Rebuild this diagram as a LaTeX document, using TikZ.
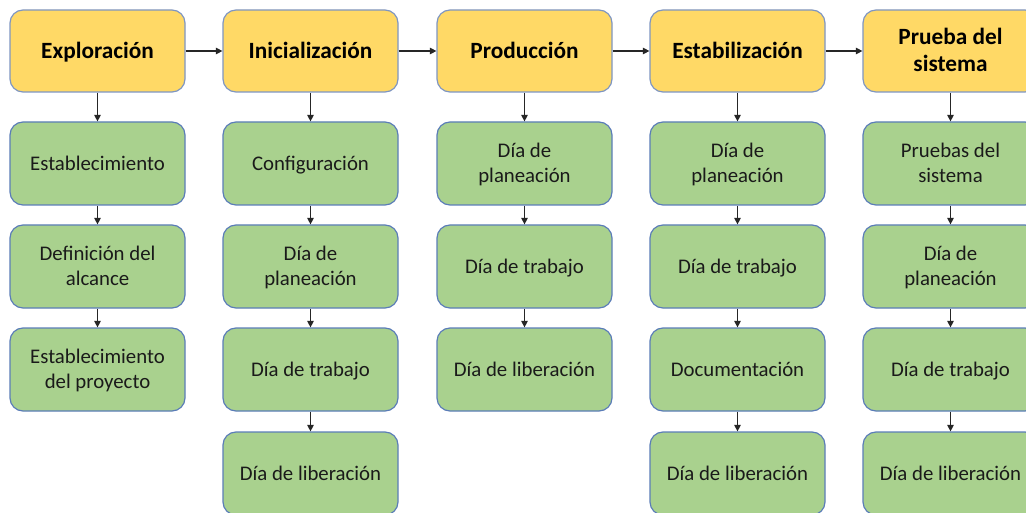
\documentclass[tikz,border=0pt]{standalone}
\usepackage{fontspec}
\setmainfont{Carlito}
\usetikzlibrary{arrows.meta}
\newcommand{\ms}{\rule[-0.24\baselineskip]{0pt}{\baselineskip}}
\definecolor{hdrfill}{HTML}{FFD966}
\definecolor{hdrdraw}{HTML}{7F96C2}
\definecolor{stepfill}{HTML}{A9D18E}
\definecolor{stepdraw}{HTML}{5B7DB8}
\definecolor{steptext}{HTML}{1A1A1A}
\tikzset{
  hdrbox/.style={draw=hdrdraw, fill=hdrfill, line width=1.2pt, rounded corners=13pt,
    minimum width=175pt, minimum height=82pt, align=center, inner sep=2pt,
    font=\fontsize{23.3}{27}\selectfont\bfseries, text=black},
  stepbox/.style={draw=stepdraw, fill=stepfill, line width=1.2pt, rounded corners=13pt,
    minimum width=175pt, minimum height=83pt, align=center, inner sep=2pt,
    font=\fontsize{20.8}{25.5}\selectfont, text=steptext},
  link/.style={draw=black!85, line width=1.1pt, -{Triangle[length=6.5pt,width=6.5pt]}}
}
\begin{document}
\begin{tikzpicture}[x=1pt,y=-1pt]
\useasboundingbox (0,0) rectangle (1026,513);
\fill[white] (0,0) rectangle (1026,513);
\clip (0,0) rectangle (1026,513);
% headers
\node[hdrbox] (h1) at (97.5,51) {\ms Exploración};
\node[hdrbox] (h2) at (310.5,51) {\ms Inicialización};
\node[hdrbox] (h3) at (524.5,51) {\ms Producción};
\node[hdrbox] (h4) at (737.5,51) {\ms Estabilización};
\node[hdrbox] (h5) at (950.5,51) {\ms Prueba del\\\ms sistema};
% column 1
\node[stepbox] (a1) at (97.5,163.5) {\ms Establecimiento};
\node[stepbox] (a2) at (97.5,266.5) {\ms Definición del\\\ms alcance};
\node[stepbox] (a3) at (97.5,369.5) {\ms Establecimiento\\\ms del proyecto};
% column 2
\node[stepbox] (b1) at (310.5,163.5) {\ms Configuración};
\node[stepbox] (b2) at (310.5,266.5) {\ms Día de\\\ms planeación};
\node[stepbox] (b3) at (310.5,369.5) {\ms Día de trabajo};
\node[stepbox] (b4) at (310.5,473.5) {\ms Día de liberación};
% column 3
\node[stepbox] (c1) at (524.5,163.5) {\ms Día de\\\ms planeación};
\node[stepbox] (c2) at (524.5,266.5) {\ms Día de trabajo};
\node[stepbox] (c3) at (524.5,369.5) {\ms Día de liberación};
% column 4
\node[stepbox] (d1) at (737.5,163.5) {\ms Día de\\\ms planeación};
\node[stepbox] (d2) at (737.5,266.5) {\ms Día de trabajo};
\node[stepbox] (d3) at (737.5,369.5) {\ms Documentación};
\node[stepbox] (d4) at (737.5,473.5) {\ms Día de liberación};
% column 5
\node[stepbox] (e1) at (950.5,163.5) {\ms Pruebas del\\\ms sistema};
\node[stepbox] (e2) at (950.5,266.5) {\ms Día de\\\ms planeación};
\node[stepbox] (e3) at (950.5,369.5) {\ms Día de trabajo};
\node[stepbox] (e4) at (950.5,473.5) {\ms Día de liberación};
% horizontal arrows
\draw[link] (h1) -- (h2);
\draw[link] (h2) -- (h3);
\draw[link] (h3) -- (h4);
\draw[link] (h4) -- (h5);
% vertical arrows
\draw[link] (h1) -- (a1);
\draw[link] (a1) -- (a2);
\draw[link] (a2) -- (a3);
\draw[link] (h2) -- (b1);
\draw[link] (b1) -- (b2);
\draw[link] (b2) -- (b3);
\draw[link] (b3) -- (b4);
\draw[link] (h3) -- (c1);
\draw[link] (c1) -- (c2);
\draw[link] (c2) -- (c3);
\draw[link] (h4) -- (d1);
\draw[link] (d1) -- (d2);
\draw[link] (d2) -- (d3);
\draw[link] (d3) -- (d4);
\draw[link] (h5) -- (e1);
\draw[link] (e1) -- (e2);
\draw[link] (e2) -- (e3);
\draw[link] (e3) -- (e4);
\end{tikzpicture}
\end{document}
